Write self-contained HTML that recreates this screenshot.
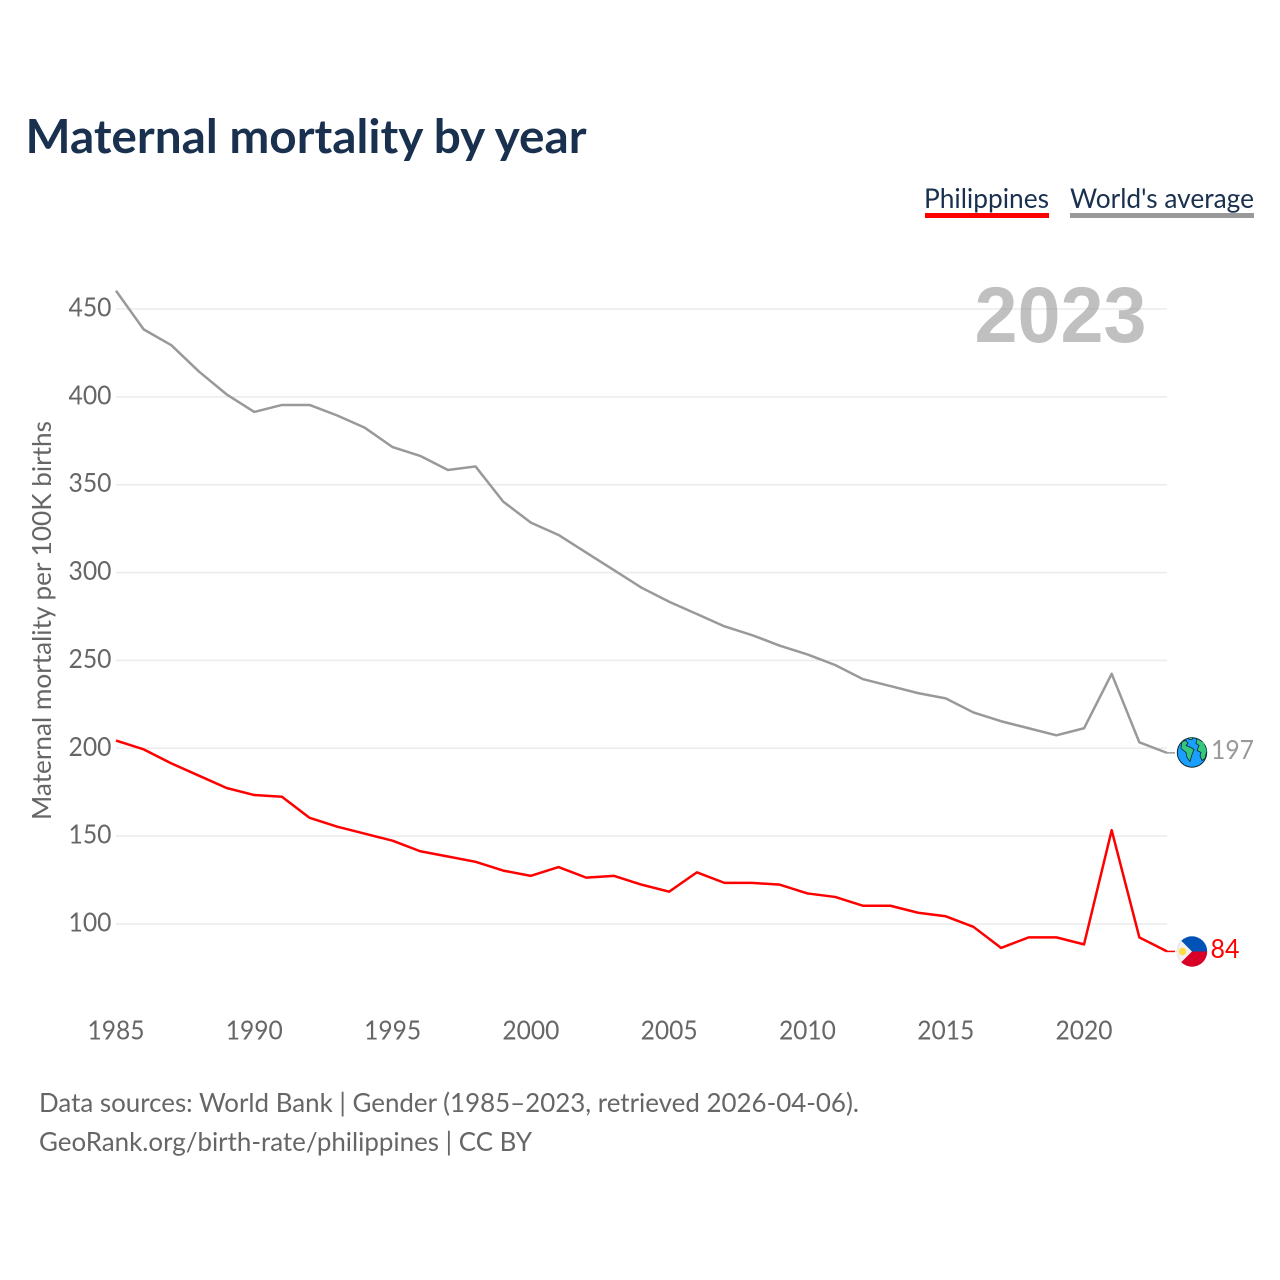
<!DOCTYPE html>
<html lang="en">
<head>
<meta charset="utf-8">
<title>Maternal mortality by year</title>
<style>
html,body{margin:0;padding:0;background:#fff;width:1280px;height:1280px;overflow:hidden}
svg{display:block}
text{font-family:"Lato","Carlito","Liberation Sans",sans-serif}
</style>
</head>
<body>
<svg id="chart" xmlns="http://www.w3.org/2000/svg" width="1280" height="1280" viewBox="0 0 1280 1280">
  <text x="25.5" y="153" font-size="47" font-weight="700" fill="#19304f" textLength="561" lengthAdjust="spacingAndGlyphs">Maternal mortality by year</text>

  <g>
    <text x="924" y="208" font-size="27" fill="#19304f" textLength="125" lengthAdjust="spacingAndGlyphs">Philippines</text>
    <rect x="925" y="213" width="124" height="5" fill="#ff0000"/>
  </g>
  <g>
    <text x="1070" y="208" font-size="27" fill="#19304f" textLength="184" lengthAdjust="spacingAndGlyphs">World's average</text>
    <rect x="1070" y="213" width="184" height="5" fill="#999999"/>
  </g>

  <g id="grid"></g>
  <text x="1146.5" y="342" text-anchor="end" style="font-family:'Liberation Sans',sans-serif" font-size="79" font-weight="700" fill="#999999" fill-opacity="0.62" textLength="172" lengthAdjust="spacingAndGlyphs">2023</text>
  <g id="yticks"></g>
  <g id="xticks"></g>
  <text transform="translate(51 620.5) rotate(-90)" text-anchor="middle" font-size="26" fill="#666666" textLength="399" lengthAdjust="spacingAndGlyphs">Maternal mortality per 100K births</text>
  <g id="series" transform="translate(0 -0.7)"></g>

  <defs>
    <clipPath id="flagClip"><circle cx="0" cy="0" r="15.2"/></clipPath>
  </defs>
  <g transform="translate(1192 752.5)">
    <circle r="14.7" fill="#1a9fff" stroke="#0b2733" stroke-width="1"/>
    <g clip-path="url(#flagClip)" fill="#36c77e" stroke="#0b2733" stroke-width="0.8">
      <path d="M-10-11 L-6-12 L-4-9 L-6-7 L-1-5 L2-3 L0 2 L-2 9 L-5 5 L-6 0 L-11-4 Z"/>
      <path d="M5-14 L12-10 L15-2 L13 6 L10 8 L8 3 L9 0 L5-2 L7-7 L4-9 Z"/>
      <path d="M-3-15 L1-15 L0-13 L-3-13 Z"/>
    </g>
  </g>
  <g transform="translate(1192 951.5)">
    <g clip-path="url(#flagClip)">
      <rect x="-16" y="-16" width="32" height="16" fill="#0052b4"/>
      <rect x="-16" y="0" width="32" height="16" fill="#d80027"/>
      <path d="M-16-16 L0 0 L-16 16 Z" fill="#f0f0f0"/>
      <circle cx="-9.5" cy="0" r="3.8" fill="#ffda44"/>
    </g>
  </g>
  <text x="1211" y="759" font-size="26" fill="#999999" textLength="43" lengthAdjust="spacingAndGlyphs">197</text>
  <text x="1210.5" y="958" font-size="26" fill="#ff0000" textLength="29" lengthAdjust="spacingAndGlyphs">84</text>

  <text x="39" y="1112" font-size="26.5" fill="#666666" textLength="820" lengthAdjust="spacingAndGlyphs">Data sources: World Bank | Gender (1985–2023, retrieved 2026-04-06).</text>
  <text x="39" y="1151" font-size="26.5" fill="#666666" textLength="493" lengthAdjust="spacingAndGlyphs">GeoRank.org/birth-rate/philippines | CC BY</text>
</svg>
<script>
const years = [1985,1986,1987,1988,1989,1990,1991,1992,1993,1994,1995,1996,1997,1998,1999,2000,2001,2002,2003,2004,2005,2006,2007,2008,2009,2010,2011,2012,2013,2014,2015,2016,2017,2018,2019,2020,2021,2022,2023];
const worldValues = [460,438,429,414,401,391,395,395,389,382,371,366,358,360,340,328,321,311,301,291,283,276,269,264,258,253,247,239,235,231,228,220,215,211,207,211,242,203,197];
const philippinesValues = [204,199,191,184,177,173,172,160,155,151,147,141,138,135,130,127,132,126,127,122,118,129,123,123,122,117,115,110,110,106,104,98,86,92,92,88,153,92,84];
const yTickValues = [100,150,200,250,300,350,400,450];
const xTickValues = [1985,1990,1995,2000,2005,2010,2015,2020];

const NS = 'http://www.w3.org/2000/svg';
function xScale(year){ return 116 + (year - 1985) * (1167 - 116) / 38; }
function yScale(value){ return 924 - (value - 100) * (924 - 309) / 350; }

const gridGroup = document.getElementById('grid');
const yTickGroup = document.getElementById('yticks');
const xTickGroup = document.getElementById('xticks');
const seriesGroup = document.getElementById('series');

yTickValues.forEach(function(v){
  const line = document.createElementNS(NS, 'line');
  
  
  line.setAttribute('x1', 116);
  line.setAttribute('x2', 1167);
  line.setAttribute('y1', yScale(v));
  line.setAttribute('y2', yScale(v));
  line.setAttribute('stroke', '#ebebeb');
  line.setAttribute('stroke-width', '1.5');
  gridGroup.appendChild(line);

  const label = document.createElementNS(NS, 'text');
  
  
  label.setAttribute('x', 111.5);
  label.setAttribute('y', yScale(v) + 7.5);
  label.setAttribute('text-anchor', 'end');
  label.setAttribute('font-size', '26');
  label.setAttribute('fill', '#666666');
  label.setAttribute('textLength', '43');
  label.setAttribute('lengthAdjust', 'spacingAndGlyphs');
  label.textContent = String(v);
  yTickGroup.appendChild(label);
});

xTickValues.forEach(function(y){
  const label = document.createElementNS(NS, 'text');
  
  
  label.setAttribute('x', xScale(y));
  label.setAttribute('y', 1039.5);
  label.setAttribute('text-anchor', 'middle');
  label.setAttribute('font-size', '26');
  label.setAttribute('fill', '#666666');
  label.setAttribute('textLength', '57');
  label.setAttribute('lengthAdjust', 'spacingAndGlyphs');
  label.textContent = String(y);
  xTickGroup.appendChild(label);
});

function drawSeries(values, color, name){
  const pts = values.map(function(v, i){ return xScale(years[i]).toFixed(2) + ',' + yScale(v).toFixed(2); });
  const path = document.createElementNS(NS, 'polyline');
  
  
  path.setAttribute('points', pts.join(' '));
  path.setAttribute('fill', 'none');
  path.setAttribute('stroke', color);
  path.setAttribute('stroke-width', '2.5');
  path.setAttribute('stroke-linejoin', 'round');
  seriesGroup.appendChild(path);

  const lastValue = values[values.length - 1];
  const lastYear = years[years.length - 1];
  const leader = document.createElementNS(NS, 'line');
  
  
  leader.setAttribute('x1', xScale(lastYear));
  leader.setAttribute('x2', xScale(lastYear) + 8);
  leader.setAttribute('y1', yScale(lastValue));
  leader.setAttribute('y2', yScale(lastValue));
  leader.setAttribute('stroke', color);
  leader.setAttribute('stroke-width', '1.5');
  seriesGroup.appendChild(leader);
}
drawSeries(worldValues, '#999999', 'world-average');
drawSeries(philippinesValues, '#ff0000', 'philippines');
</script>
</body>
</html>
